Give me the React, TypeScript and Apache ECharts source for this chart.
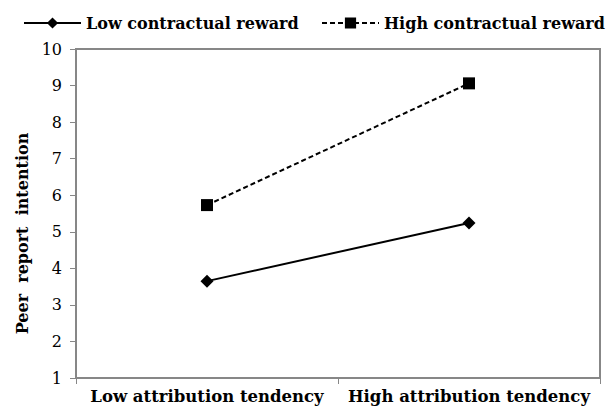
import React, { useEffect, useRef } from "react";
import * as echarts from "echarts";

const categories = ["Low attribution tendency", "High attribution tendency"];
const lowReward = [3.65, 5.24];
const highReward = [5.73, 9.06];
const yTicks = [1, 2, 3, 4, 5, 6, 7, 8, 9, 10];

const FONT = "'DejaVu Serif', 'Liberation Serif', serif";
const legendText = { fontFamily: FONT, fontWeight: "bold", fontSize: 16, color: "#000" };

export default function App() {
  const ref = useRef<HTMLDivElement>(null);
  useEffect(() => {
    const chart = echarts.init(ref.current!, null, { renderer: "svg" });
    chart.setOption({
      animation: false,
      backgroundColor: "#fff",
      legend: [
        {
          top: 10,
          left: 18,
          itemWidth: 57,
          itemHeight: 14,
          textStyle: legendText,
          data: ["Low contractual reward"],
        },
        {
          top: 10,
          left: 316,
          itemWidth: 57,
          itemHeight: 14,
          textStyle: legendText,
          data: ["High contractual reward"],
        },
      ],
      grid: { left: 76, right: 13, top: 49, bottom: 34, show: true, borderColor: "#878787", borderWidth: 2 },
      xAxis: {
        type: "category",
        data: categories,
        boundaryGap: true,
        axisLine: { lineStyle: { color: "#878787", width: 2 } },
        axisTick: { show: true, length: 6, lineStyle: { color: "#878787" } },
        axisLabel: { fontFamily: FONT, fontWeight: "bold", fontSize: 16.5, color: "#000", margin: 10, interval: 0 },
      },
      yAxis: {
        type: "value",
        min: 1,
        max: 10,
        interval: 1,
        name: "Peer  report  intention",
        nameLocation: "middle",
        nameGap: 46,
        nameTextStyle: { fontFamily: FONT, fontWeight: "bold", fontSize: 16, color: "#000", padding: [0, 40, 0, 0] },
        splitLine: { show: false },
        axisLine: { show: true, lineStyle: { color: "#878787", width: 2 } },
        axisTick: { show: true, length: 6, lineStyle: { color: "#878787" } },
        axisLabel: {
          fontFamily: FONT,
          fontSize: 16,
          color: "#000",
          margin: 14,
          formatter: (v: number) => (yTicks.includes(v) ? String(v) : ""),
        },
      },
      series: [
        {
          name: "Low contractual reward",
          type: "line",
          data: lowReward,
          symbol: "diamond",
          symbolSize: 13,
          itemStyle: { color: "#000" },
          lineStyle: { color: "#000", width: 2 },
        },
        {
          name: "High contractual reward",
          type: "line",
          data: highReward,
          symbol: "rect",
          symbolSize: 12,
          itemStyle: { color: "#000" },
          lineStyle: { color: "#000", width: 2, type: [5, 3] },
        },
      ],
    });
    return () => chart.dispose();
  }, []);
  return <div ref={ref} style={{ width: 613, height: 412, position: "absolute", left: 0, top: 0 }} />;
}
